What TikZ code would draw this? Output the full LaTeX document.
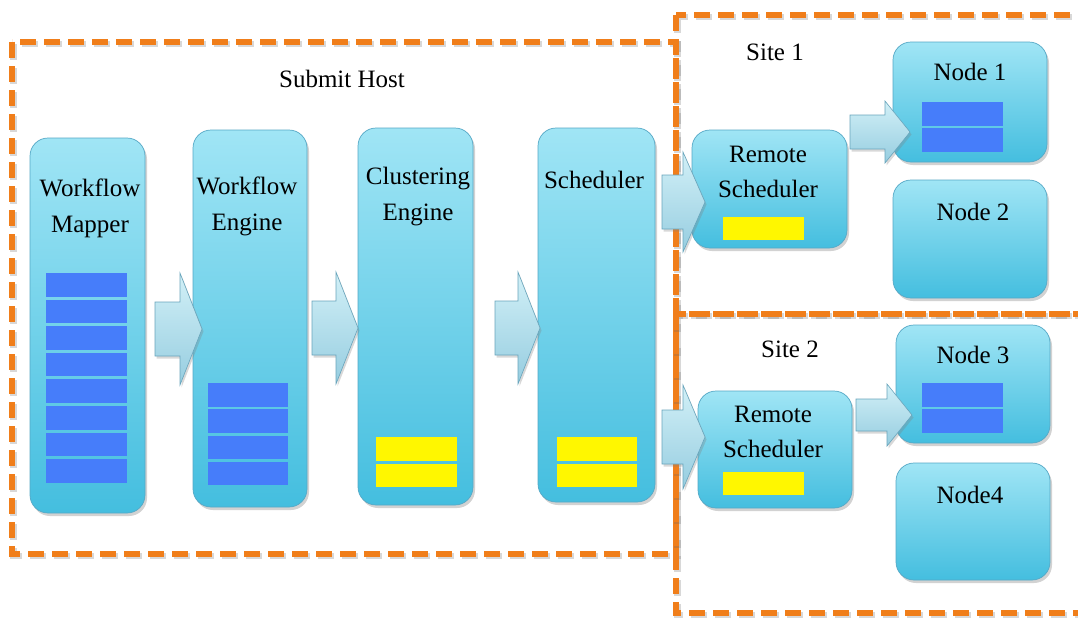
\documentclass[tikz,border=0pt]{standalone}
\usepackage{fontspec}
\setmainfont{Liberation Serif}
\usetikzlibrary{shadows}

\definecolor{hostorange}{RGB}{240,126,26}
\definecolor{boxtop}{RGB}{160,229,245}
\definecolor{boxbot}{RGB}{68,190,223}
\definecolor{boxline}{RGB}{85,168,198}
\definecolor{stripeblue}{RGB}{70,125,250}
\definecolor{stripeyellow}{RGB}{255,247,0}
\definecolor{arrtop}{RGB}{210,240,247}
\definecolor{arrbot}{RGB}{150,205,224}
\definecolor{arrline}{RGB}{105,165,188}

% block arrow: start x, head x, tip x, centre y, half shaft, half head
\newcommand\blockarrow[6]{%
  \path[flowarrow] (#1,#4-#5) -- (#2,#4-#5) -- (#2,#4-#6) -- (#3,#4)
    -- (#2,#4+#6) -- (#2,#4+#5) -- (#1,#4+#5) -- cycle;}

% a column of queue slots: left x, right x, top y, count, pitch, height, colour
\newcommand\slots[7]{%
  \foreach \k in {1,...,#4}{%
    \fill[#7] (#1,{#3+(\k-1)*#5}) rectangle (#2,{#3+(\k-1)*#5+#6});}}

\begin{document}
\begin{tikzpicture}[x=1pt,y=-1pt,
  stage/.style={rectangle, rounded corners=18pt, draw=boxline, line width=0.7pt,
    top color=boxtop, bottom color=boxbot, inner sep=0pt,
    drop shadow={opacity=0.35, shadow xshift=2pt, shadow yshift=-3pt}},
  region/.style={draw=hostorange, line width=6.5pt, dash pattern=on 16pt off 8pt,
    drop shadow={opacity=0.25, shadow xshift=1.5pt, shadow yshift=-2pt, fill=none,
      draw=black!60, line width=6.5pt, dash pattern=on 16pt off 8pt}},
  flowarrow/.style={draw=arrline, line width=0.6pt, top color=arrtop, bottom color=arrbot,
    drop shadow={opacity=0.3, shadow xshift=1.5pt, shadow yshift=-2.5pt}},
  lbl/.style={font=\fontsize{25}{36}\selectfont, align=center, anchor=base, inner sep=0pt,
    text=black}]

\useasboundingbox[fill=white] (0,0) rectangle (1078,619);

% dashed regions
\draw[region] (12,42) rectangle (676,554);
\draw[region] (676,15) rectangle (1090,314);
\draw[region] (676,314) rectangle (1090,613);

\node[lbl] (hostlbl) at (342,87) {Submit Host};
\node[lbl] (site1lbl) at (775,60) {Site 1};
\node[lbl] (site2lbl) at (790,357) {Site 2};

% submit host stages
\node[stage, minimum width=115pt, minimum height=375pt] (wm) at (87.5,325.5) {};
\node[stage, minimum width=114pt, minimum height=377pt] (we) at (250,318.5) {};
\node[stage, minimum width=115pt, minimum height=377pt] (ce) at (415.5,316.5) {};
\node[stage, minimum width=117pt, minimum height=374pt] (sc) at (596.5,315) {};

% two-line labels sit on the baseline of their last line
\node[lbl] (wmlbl) at (90,232) {Workflow\\Mapper};
\node[lbl] (welbl) at (247,230) {Workflow\\Engine};
\node[lbl] (celbl) at (418,220) {Clustering\\Engine};
\node[lbl] (sclbl) at (594,188) {Scheduler};

\slots{46}{127}{273}{8}{26.6}{23.5}{stripeblue}
\slots{208}{288}{383}{4}{26.3}{23.5}{stripeblue}
\slots{376}{457}{437}{2}{26.5}{23.5}{stripeyellow}
\slots{557}{637}{437}{2}{26.5}{23.5}{stripeyellow}

% site 1
\node[stage, minimum width=155pt, minimum height=118pt] (rs1) at (769.5,189) {};
\node[lbl, font=\fontsize{25}{35}\selectfont] (rs1lbl) at (768,197) {Remote\\Scheduler};
\fill[stripeyellow] (723,217) rectangle (804,240);
\node[stage, minimum width=154pt, minimum height=120pt] (n1) at (970,102) {};
\node[lbl] (n1lbl) at (970,80) {Node 1};
\slots{922}{1003}{102}{2}{26}{23.5}{stripeblue}
\node[stage, minimum width=154pt, minimum height=118pt] (n2) at (970,239) {};
\node[lbl] (n2lbl) at (973,220) {Node 2};

% site 2
\node[stage, minimum width=154pt, minimum height=117pt] (rs2) at (775,449.5) {};
\node[lbl, font=\fontsize{25}{35}\selectfont] (rs2lbl) at (773,457) {Remote\\Scheduler};
\fill[stripeyellow] (723,472) rectangle (804,495);
\node[stage, minimum width=154pt, minimum height=118pt] (n3) at (973,384) {};
\node[lbl] (n3lbl) at (973,363) {Node 3};
\slots{922}{1003}{383}{2}{26}{23.5}{stripeblue}
\node[stage, minimum width=154pt, minimum height=117pt] (n4) at (973,521.5) {};
\node[lbl] (n4lbl) at (970,503) {Node4};

% flow arrows between stages
\blockarrow{155}{180}{202}{329}{27}{56}
\blockarrow{312}{336}{358}{328}{27}{56}
\blockarrow{495}{518}{540}{328}{27}{56}
\blockarrow{662}{683}{705}{202}{27}{50}
\blockarrow{662}{683}{705}{437}{27}{52}
\blockarrow{850}{885}{910}{132}{17}{31}
\blockarrow{856}{887}{912}{415}{16}{31}

\end{tikzpicture}
\end{document}
